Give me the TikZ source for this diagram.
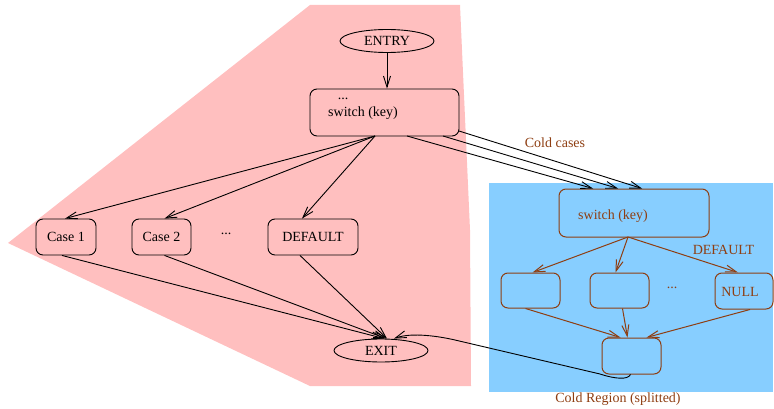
\documentclass[tikz,border=0pt]{standalone}
\usepackage{fontspec}
\setmainfont{Liberation Serif}
\usetikzlibrary{arrows.meta,shapes.geometric}
\definecolor{hotpink}{RGB}{255,191,191}
\definecolor{coldblue}{RGB}{135,206,255}
\definecolor{coldbrown}{RGB}{142,62,18}
\tikzset{
  lbl/.style={font=\fontsize{14}{16}\selectfont, inner sep=0pt},
  arr/.style={line width=0.9pt, -{Straight Barb[length=11pt,width=7pt]}},
  blk/.style={draw, line width=0.9pt, rounded corners=7pt, inner sep=0pt},
  oval/.style={ellipse, draw, line width=0.9pt, inner sep=0pt,
               minimum width=94pt, minimum height=23pt, font=\fontsize{14}{16}\selectfont},
  coldblk/.style={blk, draw=coldbrown, line width=1pt},
  coldarr/.style={arr, draw=coldbrown, line width=1pt},
}
\begin{document}
\begin{tikzpicture}[x=1pt,y=-1pt]
\useasboundingbox (0,0) rectangle (774,409);

% hot region and cold region backgrounds
\fill[hotpink] (310,5) -- (460,5) -- (470,230) -- (471,386) -- (310,386) -- (8,243) -- cycle;
\fill[coldblue] (489,183) rectangle (773,392);

% hot part
\node[oval] (entry) at (387,41) {ENTRY};
\node[blk, minimum width=149pt, minimum height=47pt] (sw) at (384.5,112.5) {};
\node[lbl] (swdots) at (343,99) {...};
\node[lbl] (swtext) at (363,113) {switch (key)};
\node[blk, minimum width=60pt, minimum height=36pt, font=\fontsize{14}{16}\selectfont] (case1) at (66,237) {Case 1};
\node[blk, minimum width=59pt, minimum height=36pt, font=\fontsize{14}{16}\selectfont] (case2) at (161.5,237) {Case 2};
\node[lbl] (hotdots) at (226,234) {...};
\node[blk, minimum width=90pt, minimum height=36pt, font=\fontsize{14}{16}\selectfont] (default) at (313,237) {DEFAULT};
\node[oval] (exit) at (381,350.5) {EXIT};

\coordinate (swb) at (375,136);
\draw[arr] (entry.south) -- (entry.south |- sw.north);
\draw[arr] (swb) -- ([xshift=-1pt]case1.north);
\draw[arr] (swb) -- ([xshift=3pt]case2.north);
\draw[arr] (swb) -- ([xshift=-11pt]default.north);
\draw[arr] ([xshift=-4pt]case1.south) -- ([xshift=3pt]exit.north);
\draw[arr] ([xshift=3pt]case2.south) -- ([xshift=5pt]exit.north);
\draw[arr] ([xshift=-13pt]default.south) -- ([xshift=6pt]exit.north);

% cold part
\node[coldblk, minimum width=150pt, minimum height=48pt] (csw) at (634,213) {};
\node[lbl, text=coldbrown] (cswtext) at (613,216) {switch (key)};
\node[coldblk, minimum width=59pt, minimum height=35pt] (ca) at (530.5,290.5) {};
\node[coldblk, minimum width=59pt, minimum height=35pt] (cb) at (619.5,290.5) {};
\node[lbl, text=coldbrown] (colddots) at (672,288) {...};
\node[coldblk, minimum width=58pt, minimum height=36pt] (cnull) at (744,291) {};
\node[lbl, text=coldbrown] (nulltext) at (740,292) {NULL};
\node[coldblk, minimum width=59pt, minimum height=36pt] (cc) at (631.5,356) {};

\node[lbl, text=coldbrown] (coldlbl) at (555,143) {Cold cases};
\node[lbl, text=coldbrown] (deflbl) at (723.5,250) {DEFAULT};
\node[lbl, text=coldbrown] (regionlbl) at (618,399) {Cold Region (splitted)};

% cold case edges leaving the hot switch
\coordinate (cs1) at (407,136);
\coordinate (cs2) at (443,136);
\coordinate (cs3) at (459,131);
\draw[arr] (cs1) -- ([xshift=-41pt]csw.north);
\draw[arr] (cs2) -- ([xshift=-16pt]csw.north);
\draw[arr] (cs3) -- ([xshift=8pt]csw.north);

\coordinate (cswb) at (628,237);
\draw[coldarr] (cswb) -- ([xshift=2pt]ca.north);
\draw[coldarr] (cswb) -- ([xshift=-4pt]cb.north);
\draw[coldarr] (cswb) -- ([xshift=-6pt]cnull.north);
\draw[coldarr] ([xshift=-5pt]ca.south) -- ([xshift=-11pt]cc.north);
\draw[coldarr] ([xshift=3pt]cb.south) -- ([xshift=-4pt]cc.north);
\draw[coldarr] ([xshift=6pt]cnull.south) -- ([xshift=15pt]cc.north);

% return from the cold region to the exit
\draw[arr] ([xshift=-1pt]cc.south) .. controls (628,380) and (615,379) .. (600,374)
  -- (455,340) .. controls (440,336.5) and (412,332) .. ([xshift=13pt]exit.north);
\end{tikzpicture}
\end{document}
